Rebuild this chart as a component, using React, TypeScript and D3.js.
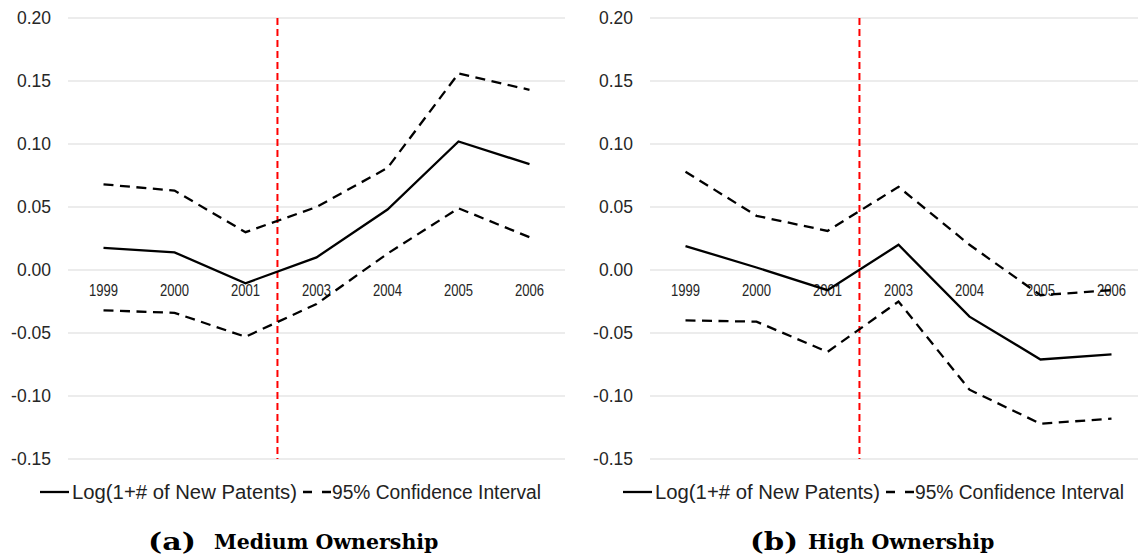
import React from "react";
import * as d3 from "d3";

const years = ["1999", "2000", "2001", "2003", "2004", "2005", "2006"];
const yTicks = [0.2, 0.15, 0.1, 0.05, 0.0, -0.05, -0.1, -0.15];

const mediumCoef = [0.0175, 0.014, -0.0105, 0.01, 0.048, 0.102, 0.084];
const mediumUpper = [0.068, 0.063, 0.03, 0.05, 0.081, 0.156, 0.143];
const mediumLower = [-0.032, -0.034, -0.053, -0.027, 0.013, 0.049, 0.026];

const highCoef = [0.019, 0.002, -0.016, 0.02, -0.037, -0.071, -0.067];
const highUpper = [0.078, 0.043, 0.031, 0.066, 0.02, -0.02, -0.016];
const highLower = [-0.04, -0.041, -0.065, -0.025, -0.095, -0.122, -0.118];

const legendLabels = ["Log(1+# of New Patents)", "95% Confidence Interval"];
const panelLetters = ["(a)", "(b)"];
const panelTitles = ["Medium Ownership", "High Ownership"];

const SANS = "'Liberation Sans', Arial, sans-serif";
const SERIF = "'DejaVu Serif', 'Liberation Serif', serif";

const yScale = d3.scaleLinear().domain([-0.15, 0.2]).range([459, 18]);
const fmt = (t: number) => d3.format(".2f")(t).replace("\u2212", "-");

type PanelProps = {
  left: number;
  gridRight: number;
  tickRight: number;
  legendX: number;
  letterX: number;
  titleX: number;
  coef: number[];
  upper: number[];
  lower: number[];
  letter: string;
  title: string;
};

function Panel(p: PanelProps) {
  const x = d3.scaleBand<string>().domain(years).range([p.left, p.left + 497]);
  const bw = x.bandwidth();
  const cx = (i: number) => (x(years[i]) as number) + bw / 2;
  const line = d3
    .line<number>()
    .x((_, i) => cx(i))
    .y((d) => yScale(d));
  const redX = cx(2) + 0.45 * x.step();
  const ly = 492;
  return (
    <g>
      {yTicks.map((t) => (
        <g key={t}>
          <line
            x1={p.left}
            x2={p.gridRight}
            y1={yScale(t)}
            y2={yScale(t)}
            stroke="#d9d9d9"
            strokeWidth={1}
          />
          <text
            x={p.tickRight}
            y={yScale(t)}
            dy="0.36em"
            textAnchor="end"
            fontFamily={SANS}
            fontSize={17.5}
            fill="#262626"
          >
            {fmt(t)}
          </text>
        </g>
      ))}
      {years.map((yr, i) => (
        <text
          key={yr}
          x={cx(i)}
          y={yScale(0) + 25.5}
          textAnchor="middle"
          fontFamily={SANS}
          fontSize={16}
          fill="#262626"
          textLength={29}
          lengthAdjust="spacingAndGlyphs"
        >
          {yr}
        </text>
      ))}
      <line
        x1={redX}
        x2={redX}
        y1={yScale(0.2)}
        y2={yScale(-0.15)}
        stroke="#ff0000"
        strokeWidth={2}
        strokeDasharray="7,4"
      />
      <path d={line(p.upper) || ""} fill="none" stroke="#000" strokeWidth={2.3} strokeDasharray="10,6.5" />
      <path d={line(p.lower) || ""} fill="none" stroke="#000" strokeWidth={2.3} strokeDasharray="10,6.5" />
      <path d={line(p.coef) || ""} fill="none" stroke="#000" strokeWidth={2.3} />
      <line x1={p.legendX} x2={p.legendX + 29} y1={ly} y2={ly} stroke="#000" strokeWidth={2.3} />
      <text
        x={p.legendX + 32}
        y={ly + 6.5}
        fontFamily={SANS}
        fontSize={20}
        fill="#222"
        textLength={225}
        lengthAdjust="spacingAndGlyphs"
      >
        {legendLabels[0]}
      </text>
      <line
        x1={p.legendX + 263}
        x2={p.legendX + 291}
        y1={ly}
        y2={ly}
        stroke="#000"
        strokeWidth={2.3}
        strokeDasharray="9,10"
      />
      <text
        x={p.legendX + 292}
        y={ly + 6.5}
        fontFamily={SANS}
        fontSize={20}
        fill="#222"
        textLength={209}
        lengthAdjust="spacingAndGlyphs"
      >
        {legendLabels[1]}
      </text>
      <text
        x={p.letterX}
        y={550}
        fontFamily={SERIF}
        fontWeight="bold"
        fontSize={25}
        fill="#000"
        textLength={48}
        lengthAdjust="spacingAndGlyphs"
      >
        {p.letter}
      </text>
      <text x={p.titleX} y={549} fontFamily={SERIF} fontWeight="bold" fontSize={20.5} fill="#000">
        {p.title}
      </text>
    </g>
  );
}

export default function App() {
  return (
    <div style={{ position: "absolute", left: 0, top: 0 }}>
      <svg width={1138} height={558} style={{ display: "block", background: "#fff" }}>
        <Panel
          left={68}
          gridRight={565}
          tickRight={51}
          legendX={40}
          letterX={148}
          titleX={214}
          coef={mediumCoef}
          upper={mediumUpper}
          lower={mediumLower}
          letter={panelLetters[0]}
          title={panelTitles[0]}
        />
        <Panel
          left={650}
          gridRight={1138}
          tickRight={633}
          legendX={623}
          letterX={750}
          titleX={808}
          coef={highCoef}
          upper={highUpper}
          lower={highLower}
          letter={panelLetters[1]}
          title={panelTitles[1]}
        />
      </svg>
    </div>
  );
}
